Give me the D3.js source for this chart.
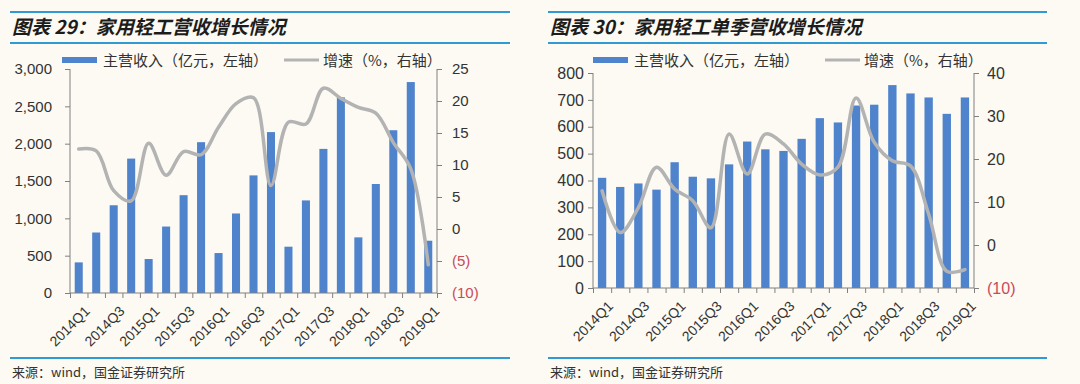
<!DOCTYPE html>
<html>
<head>
<meta charset="utf-8">
<script src="https://cdn.jsdelivr.net/npm/d3@7"></script>
<style>
  body { margin: 0; background: #fcfaf2; }
  svg { display: block; font-family: "Liberation Sans", Arial, sans-serif; }
  .title { font-family: "Noto Sans CJK SC"; font-weight: bold; font-style: italic; font-size: 19px; fill: #1c1c1c; }
  .legend { font-family: "Noto Sans CJK SC"; font-size: 15px; fill: #333; }
  .source { font-family: "Noto Sans CJK SC"; font-size: 13px; fill: #333; }
  .rule { stroke: #2f9ad3; stroke-width: 2; }
  .axis path, .axis line { stroke: #808080; }
  .axis text { fill: #333; }
  .xlabel { fill: #333; font-size: 14px; }
</style>
</head>
<body>
<svg id="chart" width="1080" height="384"></svg>
<script>
// categories
var quarters = [
  "2014Q1", "2014Q2", "2014Q3", "2014Q4",
  "2015Q1", "2015Q2", "2015Q3", "2015Q4",
  "2016Q1", "2016Q2", "2016Q3", "2016Q4",
  "2017Q1", "2017Q2", "2017Q3", "2017Q4",
  "2018Q1", "2018Q2", "2018Q3", "2018Q4",
  "2019Q1"
];

// chart 29: cumulative revenue (亿元) and growth (%)
var revenueTotal = [410, 810, 1175, 1800, 455, 890, 1310, 2020, 535, 1065, 1575, 2155,
  620, 1240, 1930, 2620, 745, 1460, 2180, 2825, 700];
var growthTotal = [12.5, 12.2, 6.0, 4.4, 13.4, 8.4, 12.1, 11.6, 15.9, 19.6, 20.5, 6.8,
  16.7, 16.4, 22.0, 20.4, 19.0, 18.1, 13.5, 9.4, -5.6];

// chart 30: single-quarter revenue and growth
var revenueQuarter = [410, 376, 389, 366, 468, 414, 408, 460, 545, 516, 510, 555,
  632, 616, 679, 682, 755, 724, 709, 648, 709];
var growthQuarter = [12.6, 2.9, 8.7, 18.1, 13.0, 10.3, 4.0, 25.8, 16.5, 25.8, 23.5, 18.8,
  16.3, 18.1, 34.2, 23.9, 19.6, 18.4, 7.2, -6.1, -5.7];

var leftTicksTotal = [0, 500, 1000, 1500, 2000, 2500, 3000];
var rightTicksTotal = [-10, -5, 0, 5, 10, 15, 20, 25];
var leftTicksQuarter = [0, 100, 200, 300, 400, 500, 600, 700, 800];
var rightTicksQuarter = [-10, 0, 10, 20, 30, 40];

var svg = d3.select("#chart");

var drawPanel = function (cfg) {
  var g = svg.append("g");

  //rules and title//
  [12, 43, 358].forEach(function (y) {
    g.append("line").classed("rule", true)
      .attr("x1", cfg.left).attr("x2", cfg.right)
      .attr("y1", y).attr("y2", y);
  });
  g.append("text").classed("title", true)
    .attr("x", cfg.left + 2).attr("y", 34)
    .text(cfg.title);
  g.append("text").classed("source", true)
    .attr("x", cfg.left + 2).attr("y", 377)
    .text("来源：wind，国金证券研究所");

  //scales//
  var xBand = d3.scaleBand()
    .domain(quarters)
    .range([cfg.x0, cfg.x1])
    .paddingInner(0.54)
    .paddingOuter(0.27);
  var xEdge = d3.scaleLinear().domain([0, quarters.length]).range([cfg.x0, cfg.x1]);
  var yLeft = d3.scaleLinear().domain(d3.extent(cfg.leftTicks)).range([cfg.y1, cfg.y0]);
  var yRight = d3.scaleLinear().domain(d3.extent(cfg.rightTicks)).range([cfg.y1, cfg.y0]);

  //bars//
  g.append("g").selectAll("rect")
    .data(cfg.bars)
    .enter()
    .append("rect")
    .attr("x", function (d, i) { return xBand(quarters[i]); })
    .attr("width", xBand.bandwidth())
    .attr("y", function (d) { return yLeft(d); })
    .attr("height", function (d) { return yLeft(0) - yLeft(d); })
    .attr("fill", "#4f83cc");

  //axes//
  g.append("g").classed("axis", true)
    .attr("transform", "translate(" + cfg.x0 + ",0)")
    .style("font-size", cfg.fontSize + "px")
    .call(d3.axisLeft(yLeft).tickValues(cfg.leftTicks).tickSize(5)
      .tickPadding(cfg.leftPad).tickFormat(d3.format(",")))
    .call(function (a) { a.select(".domain").attr("d", "M0," + cfg.y0 + "V" + cfg.y1); });

  var rAxis = g.append("g").classed("axis", true)
    .attr("transform", "translate(" + cfg.x1 + ",0)")
    .style("font-size", cfg.fontSize + "px")
    .call(d3.axisRight(yRight).tickValues(cfg.rightTicks).tickSize(5)
      .tickPadding(cfg.rightPad)
      .tickFormat(function (v) { return v < 0 ? "(" + (-v) + ")" : v; }))
    .call(function (a) { a.select(".domain").attr("d", "M0," + cfg.y0 + "V" + cfg.y1); });
  rAxis.selectAll("text")
    .style("fill", function (v) { return v < 0 ? "#c94a5c" : "#333"; });

  g.append("g").classed("axis", true)
    .attr("transform", "translate(0," + cfg.y1 + ")")
    .call(d3.axisBottom(xEdge).ticks(quarters.length).tickSize(5).tickFormat(""))
    .call(function (a) { a.select(".domain").attr("d", "M" + cfg.x0 + ",0H" + cfg.x1); });

  g.append("g").selectAll("text")
    .data(quarters.filter(function (q, i) { return i % 2 === 0; }))
    .enter()
    .append("text")
    .classed("xlabel", true)
    .attr("text-anchor", "end")
    .attr("transform", function (q) {
      return "translate(" + (xBand(q) + xBand.bandwidth() / 2 + 5) + "," + (cfg.y1 + 12) + ") rotate(-45)";
    })
    .attr("dy", "0.7em")
    .text(function (q) { return q; });

  //growth line//
  var line = d3.line()
    .x(function (d, i) { return xBand(quarters[i]) + xBand.bandwidth() / 2; })
    .y(function (d) { return yRight(d); })
    .curve(d3.curveCatmullRom.alpha(0.5));
  g.append("path")
    .datum(cfg.line)
    .attr("d", line)
    .attr("fill", "none")
    .attr("stroke", "#b3b3b3")
    .attr("stroke-width", 3.5)
    .attr("stroke-linecap", "round");

  //legend//
  var leg = g.append("g");
  leg.append("rect")
    .attr("x", cfg.legX).attr("y", 57)
    .attr("width", 35).attr("height", 6)
    .attr("fill", "#4f83cc");
  leg.append("text").classed("legend", true)
    .attr("x", cfg.legX + 41).attr("y", 66)
    .text("主营收入（亿元，左轴）");
  leg.append("line")
    .attr("x1", cfg.legX2).attr("x2", cfg.legX2 + 35)
    .attr("y1", 60).attr("y2", 60)
    .attr("stroke", "#b3b3b3").attr("stroke-width", 3);
  leg.append("text").classed("legend", true)
    .attr("x", cfg.legX2 + 39).attr("y", 66)
    .text("增速（%，右轴）");
};

drawPanel({
  title: "图表 29：家用轻工营收增长情况",
  left: 10, right: 510,
  x0: 70, x1: 437, y0: 69, y1: 293,
  leftPad: 13, rightPad: 10, fontSize: 15,
  leftTicks: leftTicksTotal, rightTicks: rightTicksTotal,
  bars: revenueTotal, line: growthTotal,
  legX: 62, legX2: 284
});

drawPanel({
  title: "图表 30：家用轻工单季营收增长情况",
  left: 548, right: 1047,
  x0: 593, x1: 974, y0: 73, y1: 288,
  leftPad: 4, rightPad: 8, fontSize: 16,
  leftTicks: leftTicksQuarter, rightTicks: rightTicksQuarter,
  bars: revenueQuarter, line: growthQuarter,
  legX: 593, legX2: 825
});
</script>
</body>
</html>
